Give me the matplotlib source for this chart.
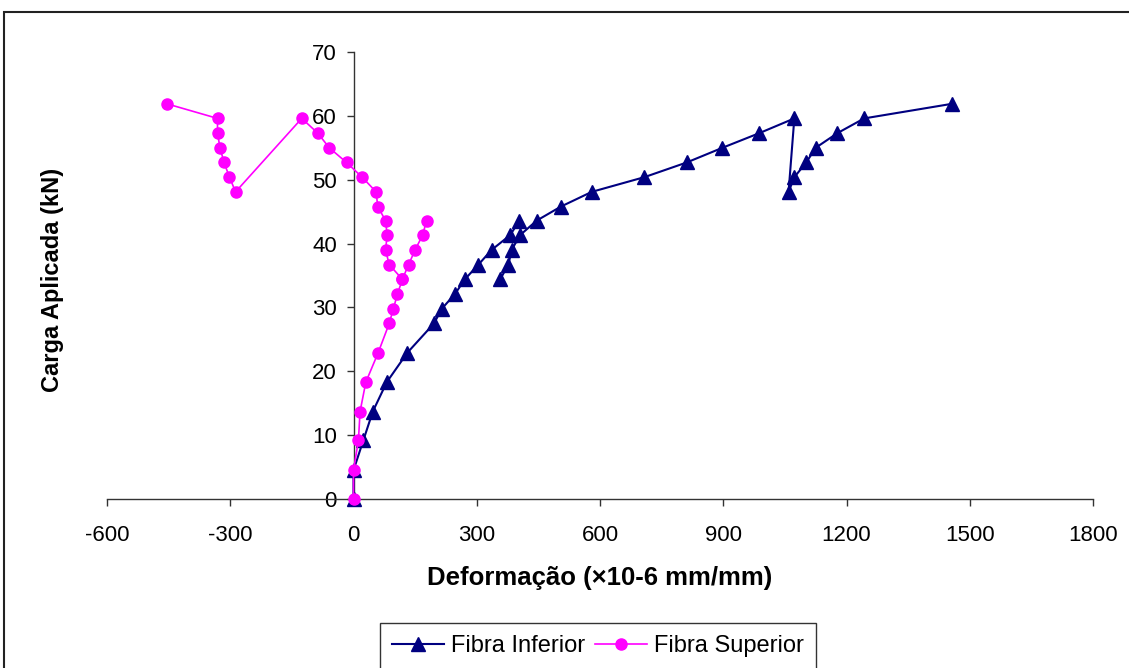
import matplotlib.pyplot as plt
import matplotlib.patches as patches
import numpy as np

plt.rcParams['font.family'] = ['Liberation Sans', 'DejaVu Sans']
plt.rcParams['axes.unicode_minus'] = False

# Fibra Inferior - primeiro trecho (carregamento inicial)
inf_a_def = [0, 0, 24, 47, 81, 131, 196, 215, 247, 271, 304, 336, 381, 404]
inf_a_carga = [0, 4.5, 9.2, 13.7, 18.3, 22.9, 27.5, 29.8, 32.1, 34.4, 36.7, 39.0, 41.3, 43.6]
# Fibra Inferior - segundo trecho
inf_b_def = [357, 377, 385, 405, 446, 505, 580, 708, 811, 898, 988, 1073,
             1059, 1073, 1102, 1125, 1178, 1243, 1458]
inf_b_carga = [34.4, 36.7, 39.0, 41.3, 43.6, 45.8, 48.1, 50.4, 52.7, 55.0, 57.3, 59.6,
               48.1, 50.4, 52.7, 55.0, 57.3, 59.6, 61.9]

# Fibra Superior - primeiro trecho
sup_a_def = [0, 0, 12, 16, 30, 60, 87, 97, 107, 119, 134, 150, 168, 178]
sup_a_carga = [0, 4.5, 9.2, 13.7, 18.3, 22.9, 27.5, 29.8, 32.1, 34.4, 36.7, 39.0, 41.3, 43.6]
# Fibra Superior - segundo trecho
sup_b_def = [119, 87, 78, 82, 78, 59, 55, 21, -17, -59, -87, -126,
             -287, -302, -315, -325, -331, -331, -455]
sup_b_carga = [34.4, 36.7, 39.0, 41.3, 43.6, 45.8, 48.1, 50.4, 52.7, 55.0, 57.3, 59.6,
               48.1, 50.4, 52.7, 55.0, 57.3, 59.6, 61.9]

x_ticks = [-600, -300, 0, 300, 600, 900, 1200, 1500, 1800]
y_ticks = [0, 10, 20, 30, 40, 50, 60, 70]


def juntar(a, b):
    # separa os trechos com NaN para desenhar como uma unica serie
    return np.concatenate([a, [np.nan], b])


fig = plt.figure(figsize=(11.29, 6.68), dpi=100)
ax = fig.add_axes([107 / 1129, 1 - 499 / 668, 986 / 1129, 447 / 668])

ax.plot(juntar(inf_a_def, inf_b_def), juntar(inf_a_carga, inf_b_carga),
        color='#000080', lw=1.5, marker='^', ms=9.5, label='Fibra Inferior',
        clip_on=False, zorder=3)
ax.plot(juntar(sup_a_def, sup_b_def), juntar(sup_a_carga, sup_b_carga),
        color='#FF00FF', lw=1.2, marker='o', ms=8, label='Fibra Superior',
        clip_on=False, zorder=4)

ax.set_xlim(-600, 1800)
ax.set_ylim(0, 70)
ax.set_xticks(x_ticks)
ax.set_yticks(y_ticks)

ax.spines['left'].set_position(('data', 0))
ax.spines['top'].set_visible(False)
ax.spines['right'].set_visible(False)
for s in ('left', 'bottom'):
    ax.spines[s].set_color('#333333')
    ax.spines[s].set_linewidth(1.0)

ax.tick_params(axis='x', direction='out', length=5, width=1, color='#333333',
               labelsize=16, pad=14)
ax.tick_params(axis='y', direction='out', length=5, width=1, color='#333333',
               labelsize=16, pad=7)

ax.set_xlabel('Deformação (×10-6 mm/mm)', fontsize=18.5, fontweight='bold', labelpad=14)
ax.set_ylabel('Carga Aplicada (kN)', fontsize=17, fontweight='bold')
ax.yaxis.set_label_coords(-0.044, 0.49)

leg = fig.legend(loc='center', bbox_to_anchor=(598 / 1129, 1 - 646 / 668), ncol=2,
                 fontsize=17, frameon=True, fancybox=False, edgecolor='black',
                 handlelength=2.2, handletextpad=0.3, columnspacing=0.4,
                 borderpad=0.5, borderaxespad=0.3)
leg.get_frame().set_linewidth(1.0)

# moldura externa do grafico
fig.add_artist(patches.Rectangle((4 / 1129, -0.1), 1.2, 1 - 12 / 668 + 0.1,
                                 transform=fig.transFigure, fill=False,
                                 lw=1.5, edgecolor='#222222'))

fig.savefig('out.png', dpi=100)
